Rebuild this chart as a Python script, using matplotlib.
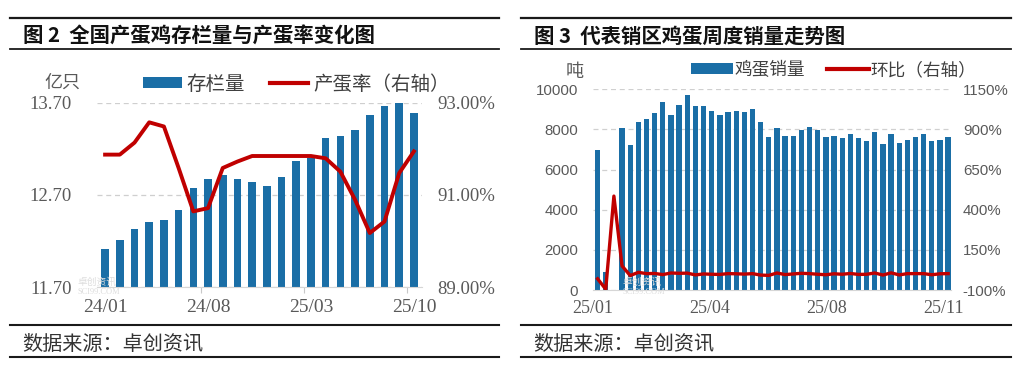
import matplotlib
matplotlib.use("Agg")
import matplotlib.pyplot as plt
import numpy as np
from matplotlib.lines import Line2D
from matplotlib.patches import Patch

plt.rcParams['font.family'] = ['Noto Sans CJK SC', 'DejaVu Sans']

# ---------------- data ----------------
# Figure 2: monthly laying-hen stock (left axis) and laying rate (right axis)
months2 = ['24/01', '24/02', '24/03', '24/04', '24/05', '24/06', '24/07', '24/08',
           '24/09', '24/10', '24/11', '24/12', '25/01', '25/02', '25/03', '25/04',
           '25/05', '25/06', '25/07', '25/08', '25/09', '25/10']
stock = [12.11, 12.21, 12.33, 12.40, 12.43, 12.54, 12.77, 12.87, 12.91, 12.87, 12.84,
         12.80, 12.89, 13.07, 13.10, 13.31, 13.34, 13.40, 13.56, 13.66, 13.69, 13.59]
lay_rate = [91.87, 91.87, 92.13, 92.57, 92.48, 91.58, 90.64, 90.71, 91.58, 91.72, 91.84,
            91.84, 91.84, 91.84, 91.84, 91.79, 91.50, 90.89, 90.17, 90.42, 91.47, 91.94]
xlabels2 = ['24/01', '24/08', '25/03', '25/10']

# Figure 3: weekly egg sales (left axis) and week-on-week change (right axis)
sales = [7000, 900, 0, 8050, 7200, 8350, 8500, 8800, 9380, 8720,
         9240, 9740, 9160, 9150, 8940, 8710, 8860, 8940, 8860, 9010,
         8350, 7630, 8060, 7690, 7690, 7990, 8140, 7990, 7630, 7690,
         7560, 7770, 7560, 7410, 7850, 7260, 7770, 7330, 7470, 7620,
         7770, 7410, 7470, 7620]
wow = [-30, -95, 485, 50, -10, 10, 2, 3, -4, 6,
       4, 5, -6, 0, -2, -3, 2, 1, -1, 2,
       -7, -9, 6, -4, 0, 4, 2, -2, -5, 1,
       -2, 3, -3, -2, 6, -7, 7, -6, 2, 2,
       2, -5, 1, 2]
xlabels3 = ['25/01', '25/04', '25/08', '25/11']

BLUE = '#1a6ea6'
RED = '#c00000'
GRAY = '#595959'
NUMSERIF = ['Liberation Serif', 'DejaVu Serif']
NUMSANS = ['Liberation Sans', 'DejaVu Sans']

W, H = 1022, 372
fig = plt.figure(figsize=(W / 100, H / 100), dpi=100)
fig.patch.set_facecolor('white')


def fx(px):
    return px / W


def fy(py):
    return 1 - py / H


# ---------------- decorations (rules, titles, sources) ----------------
for x0, x1 in [(10, 499), (521, 1011)]:
    for yy, lw in [(18, 1.6), (49, 1.3), (325, 1.5), (357, 1.5)]:
        fig.add_artist(Line2D([fx(x0), fx(x1)], [fy(yy), fy(yy)], color='#1a1a1a', lw=lw))

fig.text(fx(23), fy(36), '图 2  全国产蛋鸡存栏量与产蛋率变化图', fontsize=14.7,
         fontweight='bold', va='center', ha='left', color='#111111')
fig.text(fx(534), fy(36), '图 3  代表销区鸡蛋周度销量走势图', fontsize=14.7,
         fontweight='bold', va='center', ha='left', color='#111111')
fig.text(fx(22), fy(344), '数据来源：卓创资讯', fontsize=14.5, va='center', ha='left', color='#333333')
fig.text(fx(533), fy(344), '数据来源：卓创资讯', fontsize=14.5, va='center', ha='left', color='#333333')

# ---------------- chart 1 ----------------
ax1 = fig.add_axes([fx(97), fy(287), fx(422) - fx(97), fy(102.5) - fy(287)])
x2 = np.arange(len(months2))
ax1.bar(x2, stock, width=0.52, color=BLUE, zorder=2, bottom=0)
ax1.set_ylim(11.7, 13.7)
ax1.set_xlim(-0.55, len(months2) - 0.45)
ax1.set_yticks([11.7, 12.7, 13.7])
ax1.set_yticklabels(['11.70', '12.70', '13.70'])
ax1.grid(axis='y', color='#cfcfcf', ls=(0, (4, 3)), lw=0.9, zorder=0)
ax1.set_xticks([months2.index(m) for m in xlabels2])
ax1.set_xticklabels(xlabels2)
ax1.set_xticks([6.5, 13.5, 20.5], minor=True)
ax1.tick_params(axis='x', which='major', length=0, pad=9, labelsize=14, labelcolor=GRAY)
ax1.tick_params(axis='x', which='minor', length=4, color='#c8c8c8', width=0.8)
ax1.tick_params(axis='y', length=0, pad=18, labelsize=13.5, labelcolor=GRAY)
for lab in ax1.get_xticklabels() + ax1.get_yticklabels():
    lab.set_fontfamily(NUMSERIF)
for s in ['top', 'left', 'right']:
    ax1.spines[s].set_visible(False)
ax1.spines['bottom'].set_color('#d6d6d6')
ax1.set_axisbelow(True)

ax1r = ax1.twinx()
ax1r.plot(x2, lay_rate, color=RED, lw=2.8, solid_joinstyle='round', zorder=3)
ax1r.set_ylim(89, 93)
ax1r.set_yticks([89, 91, 93])
ax1r.set_yticklabels(['89.00%', '91.00%', '93.00%'])
ax1r.tick_params(axis='y', length=0, pad=11, labelsize=13.5, labelcolor=GRAY)
for lab in ax1r.get_yticklabels():
    lab.set_fontfamily(NUMSERIF)
for s in ['top', 'left', 'right', 'bottom']:
    ax1r.spines[s].set_visible(False)

fig.text(fx(62), fy(83), '亿只', fontsize=13, ha='center', va='center', color=GRAY)
h1 = [Patch(facecolor=BLUE, edgecolor='none'), Line2D([0], [0], color=RED, lw=3)]
fig.legend(h1, ['存栏量', '产蛋率（右轴）'], loc='center left',
           bbox_to_anchor=(fx(143), fy(84)), ncol=2, frameon=False, fontsize=14,
           handlelength=2.0, handleheight=0.5, handletextpad=0.25, columnspacing=1.25,
           borderpad=0, borderaxespad=0, labelcolor='#404040')

# faint watermark
fig.text(fx(77), fy(282), '卓创资讯', fontsize=7, color='#dddddd', ha='left', va='center', zorder=0)
fig.text(fx(77), fy(292), 'SCI99.COM', fontsize=6, color='#dddddd', ha='left', va='center',
         family=NUMSERIF, zorder=0)

# ---------------- chart 2 ----------------
ax2 = fig.add_axes([fx(592.7), fy(290), fx(951) - fx(592.7), fy(89.3) - fy(290)])
x3 = np.arange(len(sales))
ax2.bar(x3, sales, width=0.65, color=BLUE, zorder=2)
ax2.set_ylim(0, 10000)
ax2.set_xlim(-0.55, len(sales) - 0.65)
ax2.set_yticks(np.arange(0, 10001, 2000))
ax2.grid(axis='y', color='#d0d0d0', ls=(0, (4, 3)), lw=0.9, zorder=0)
ax2.set_axisbelow(True)
tick_pos3 = np.linspace(-0.6, len(sales) - 1.6, len(xlabels3))
ax2.set_xticks(tick_pos3)
ax2.set_xticklabels(xlabels3)
ax2.tick_params(axis='x', length=0, pad=7, labelsize=13, labelcolor=GRAY)
ax2.tick_params(axis='y', length=0, pad=10.5, labelsize=10.8, labelcolor=GRAY)
for lab in ax2.get_xticklabels():
    lab.set_fontfamily(NUMSERIF)
for lab in ax2.get_yticklabels():
    lab.set_fontfamily(NUMSANS)
for s in ['top', 'left', 'right']:
    ax2.spines[s].set_visible(False)
ax2.spines['bottom'].set_color('#d6d6d6')

ax2r = ax2.twinx()
ax2r.plot(x3, wow, color=RED, lw=2.4, solid_joinstyle='round', zorder=3)
ax2r.set_ylim(-100, 1150)
ax2r.set_yticks(np.arange(-100, 1151, 250))
ax2r.set_yticklabels([f'{v}%' for v in range(-100, 1151, 250)])
ax2r.tick_params(axis='y', length=0, pad=8.5, labelsize=10.8, labelcolor=GRAY)
for lab in ax2r.get_yticklabels():
    lab.set_fontfamily(NUMSANS)
for s in ['top', 'left', 'right', 'bottom']:
    ax2r.spines[s].set_visible(False)

fig.text(fx(575), fy(72), '吨', fontsize=13, ha='center', va='center', color=GRAY)
h2 = [Patch(facecolor=BLUE, edgecolor='none'), Line2D([0], [0], color=RED, lw=3)]
fig.legend(h2, ['鸡蛋销量', '环比（右轴）'], loc='center left',
           bbox_to_anchor=(fx(691), fy(70)), ncol=2, frameon=False, fontsize=12.7,
           handlelength=2.4, handleheight=0.6, handletextpad=0.05, columnspacing=1.25,
           borderpad=0, borderaxespad=0, labelcolor='#404040')

fig.text(fx(622), fy(282), '卓创资讯', fontsize=7, color='#dddddd', ha='left', va='center', zorder=0)
fig.text(fx(622), fy(292), 'SCI99.COM', fontsize=6, color='#dddddd', ha='left', va='center',
         family=NUMSERIF, zorder=0)

fig.savefig('out.png', dpi=100, facecolor='white')
